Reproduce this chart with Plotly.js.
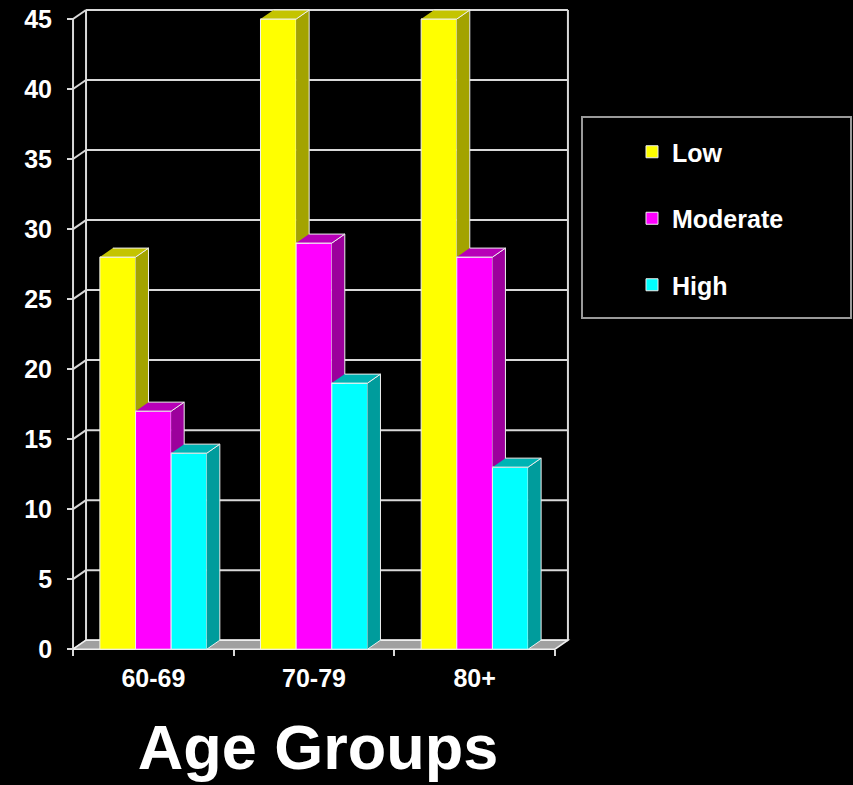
<!DOCTYPE html>
<html>
<head>
<meta charset="utf-8">
<script src="https://cdn.plot.ly/plotly-3.0.1.min.js"></script>
<style>
  html, body { margin: 0; padding: 0; background: #000; }
  #chart { width: 853px; height: 785px; }
</style>
</head>
<body>
<div id="chart"></div>
<script>
// Risk level by age group
const ageGroups = ['60-69', '70-79', '80+'];
const seriesNames = ['Low', 'Moderate', 'High'];
const lowValues = [28, 45, 45];
const moderateValues = [17, 29, 28];
const highValues = [14, 19, 13];
const yTickValues = [0, 5, 10, 15, 20, 25, 30, 35, 40, 45];

const seriesValues = [lowValues, moderateValues, highValues];
const frontColors = ['#ffff00', '#ff00ff', '#00ffff'];
const sideColors = ['#a3a300', '#9c009c', '#009c9c'];
const topColors = ['#c4c400', '#b800b8', '#00b4b4'];
const gridColor = '#d9d9d9';
const edgeColor = '#efefef';
const fontFamily = 'Liberation Sans, Arial, sans-serif';

// plot geometry
const W = 853, H = 785;
const margin = { l: 65, r: 282, t: 5, b: 133, pad: 0 };
const plotW = W - margin.l - margin.r;
const plotH = H - margin.t - margin.b;
const xRange = [-0.55, 2.6];
const yRange = [-0.2, 46];
const pxPerX = plotW / (xRange[1] - xRange[0]);
const pxPerY = plotH / (yRange[1] - yRange[0]);

// depth of the extruded bars and of the walls, in pixels -> data units
const depthPx = { x: 13, y: 9 };
const dx = depthPx.x / pxPerX;
const dy = depthPx.y / pxPerY;

const barWidth = 0.222;
const barOffsets = [-0.333, -0.111, 0.111];
const xLeft = -0.5;
const xRight = ageGroups.length - 0.5;
const yTop = yTickValues[yTickValues.length - 1];
const categoryIndex = ageGroups.map((_, i) => i);
const categoryEdges = ageGroups.map((_, i) => i - 0.5).concat([ageGroups.length - 0.5]);

const paperX = v => (v - xRange[0]) / (xRange[1] - xRange[0]);
const paperY = v => (v - yRange[0]) / (yRange[1] - yRange[0]);
const pxToPaperX = px => (px - margin.l) / plotW;
const pxToPaperY = py => (H - margin.b - py) / plotH;

const traces = [];

// front faces of the bars
seriesValues.forEach((vals, s) => {
  traces.push({
    type: 'bar',
    name: seriesNames[s],
    legendgroup: seriesNames[s],
    x: categoryIndex,
    y: vals,
    width: barWidth,
    offset: barOffsets[s],
    marker: { color: frontColors[s], line: { color: edgeColor, width: 1 } },
    hoverinfo: 'name+y'
  });
});

// side and top faces giving the bars their depth
seriesValues.forEach((vals, s) => {
  const side = { x: [], y: [] };
  const top = { x: [], y: [] };
  vals.forEach((v, i) => {
    const x0 = i + barOffsets[s];
    const x1 = x0 + barWidth;
    const next = s + 1 < seriesValues.length ? seriesValues[s + 1][i] : 0;
    if (v > next) {
      // only the part of the side face above the neighbouring bar shows
      side.x.push(x1, x1 + dx, x1 + dx, x1, null);
      side.y.push(next, Math.max(next, dy), v + dy, v, null);
    }
    top.x.push(x0, x1, x1 + dx, x0 + dx, null);
    top.y.push(v, v, v + dy, v + dy, null);
  });
  [[side, sideColors[s]], [top, topColors[s]]].forEach(([face, color]) => {
    traces.push({
      type: 'scatter',
      mode: 'lines',
      x: face.x,
      y: face.y,
      fill: 'toself',
      fillcolor: color,
      line: { color: edgeColor, width: 1 },
      showlegend: false,
      hoverinfo: 'skip'
    });
  });
});

// carrier for the category-boundary tick axis
traces.push({ type: 'scatter', x: [], y: [], xaxis: 'x2', showlegend: false, hoverinfo: 'skip' });

// walls and floor
const shapes = [];
const wallLine = { color: gridColor, width: 2 };
yTickValues.forEach(t => {
  shapes.push({ type: 'line', layer: 'below', xref: 'x', yref: 'y',
    x0: xLeft + dx, x1: xRight + dx, y0: t + dy, y1: t + dy, line: wallLine });
  shapes.push({ type: 'line', layer: 'below', xref: 'x', yref: 'y',
    x0: xLeft, x1: xLeft + dx, y0: t, y1: t + dy, line: wallLine });
});
[xLeft + dx, xRight + dx].forEach(xv => {
  shapes.push({ type: 'line', layer: 'below', xref: 'x', yref: 'y',
    x0: xv, x1: xv, y0: dy, y1: yTop + dy, line: wallLine });
});
shapes.push({ type: 'line', layer: 'below', xref: 'x', yref: 'y',
  x0: xLeft, x1: xLeft, y0: 0, y1: yTop, line: wallLine });
shapes.push({ type: 'path', layer: 'below', xref: 'x', yref: 'y',
  path: `M${xLeft},0 L${xRight},0 L${xRight + dx},${dy} L${xLeft + dx},${dy} Z`,
  fillcolor: '#a0a0a0', line: { color: edgeColor, width: 1.5 } });

// legend frame
shapes.push({ type: 'rect', layer: 'below', xref: 'paper', yref: 'paper',
  x0: pxToPaperX(582), x1: pxToPaperX(851), y0: pxToPaperY(318), y1: pxToPaperY(117),
  fillcolor: 'rgba(0,0,0,0)', line: { color: '#9a9a9a', width: 2 } });

const tickFont = { family: fontFamily, size: 25, weight: 'bold', color: '#ffffff' };

const layout = {
  width: W,
  height: H,
  margin: margin,
  paper_bgcolor: '#000000',
  plot_bgcolor: '#000000',
  barmode: 'overlay',
  showlegend: true,
  legend: {
    x: pxToPaperX(632), y: pxToPaperY(129), xanchor: 'left', yanchor: 'top',
    bgcolor: 'rgba(0,0,0,0)', borderwidth: 0,
    font: { family: fontFamily, size: 25, weight: 'bold', color: '#ffffff' },
    tracegroupgap: 31
  },
  xaxis: {
    range: xRange, anchor: 'free', position: paperY(0),
    tickmode: 'array', tickvals: categoryIndex, ticktext: ageGroups,
    ticks: '', showline: false, showgrid: false, zeroline: false,
    tickfont: tickFont, ticklabelstandoff: 12,
    title: { text: 'Age Groups', font: { family: fontFamily, size: 63, weight: 'bold', color: '#ffffff' }, standoff: 33 },
    fixedrange: true
  },
  xaxis2: {
    range: xRange, overlaying: 'x', anchor: 'free', position: paperY(0), side: 'bottom',
    tickmode: 'array', tickvals: categoryEdges,
    ticks: 'outside', ticklen: 6, tickwidth: 2, tickcolor: gridColor,
    showticklabels: false, showline: false, showgrid: false, zeroline: false,
    fixedrange: true
  },
  yaxis: {
    range: yRange, anchor: 'free', position: paperX(xLeft),
    tickmode: 'array', tickvals: yTickValues,
    ticks: 'outside', ticklen: 6, tickwidth: 2, tickcolor: gridColor,
    showline: false, showgrid: false, zeroline: false,
    tickfont: tickFont, ticklabelstandoff: 10,
    fixedrange: true
  },
  shapes: shapes
};

Plotly.newPlot('chart', traces, layout, { displayModeBar: false, staticPlot: true });
</script>
</body>
</html>
